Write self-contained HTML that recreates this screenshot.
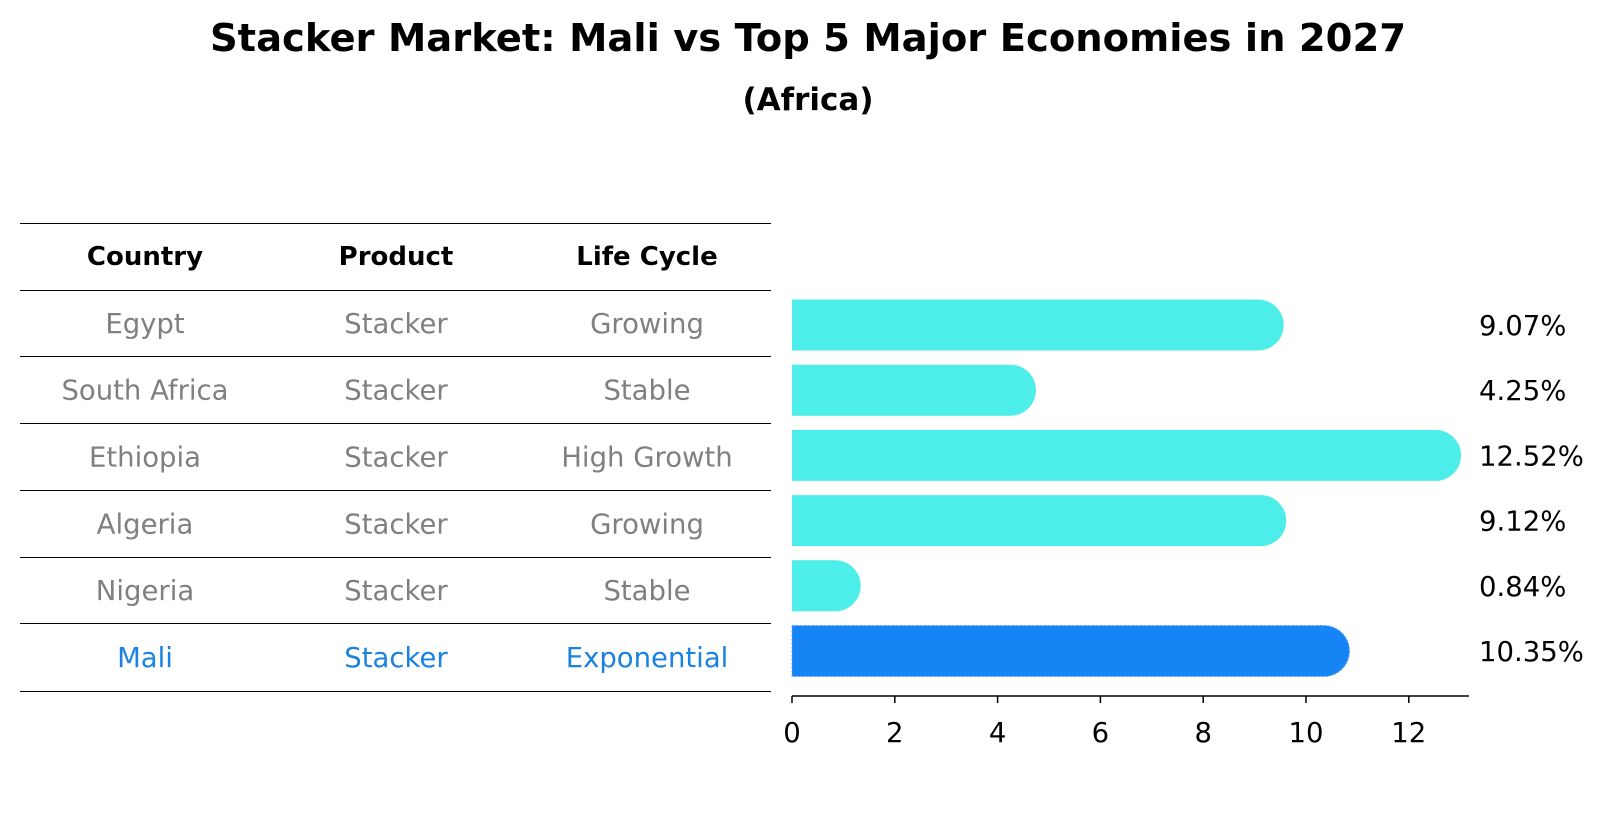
<!DOCTYPE html>
<html><head><meta charset="utf-8"><style>
body{margin:0;background:#fff;font-family:"Liberation Sans","DejaVu Sans",sans-serif}
svg text{font-family:"DejaVu Sans","Liberation Sans",sans-serif}
</style></head><body>
<svg id="chart" width="1604" height="823" xmlns="http://www.w3.org/2000/svg">
<text x="808" y="51" text-anchor="middle" font-size="38.5" font-weight="bold">Stacker Market: Mali vs Top 5 Major Economies in 2027</text>
<text x="808" y="110" text-anchor="middle" font-size="31" font-weight="bold">(Africa)</text>
<g id="table"></g>
<g id="bars"></g>
</svg>
<script>
const countries=["Egypt","South Africa","Ethiopia","Algeria","Nigeria","Mali"];
const products=["Stacker","Stacker","Stacker","Stacker","Stacker","Stacker"];
const lifecycles=["Growing","Stable","High Growth","Growing","Stable","Exponential"];
const values=[9.07,4.25,12.52,9.12,0.84,10.35];
const ticks=[0,2,4,6,8,10,12];
const NS="http://www.w3.org/2000/svg";
function mk(tag,attrs,parent,txt){const e=document.createElementNS(NS,tag);for(const k in attrs)e.setAttribute(k,attrs[k]);if(txt!==undefined)e.textContent=txt;parent.appendChild(e);return e;}
const tbl=document.getElementById('table');
const lineYs=[223,290,356,422.5,490,556.5,623,690.5];
lineYs.forEach((y,i)=>{const l=mk('line',{x1:20,x2:771,y1:Math.round(y)+0.5,y2:Math.round(y)+0.5,stroke:'#000','stroke-width':1},tbl);

});
const colX=[145,396,647];
["Country","Product","Life Cycle"].forEach((h,i)=>{const t=mk('text',{x:colX[i],y:265,'text-anchor':'middle','font-size':26,'font-weight':'bold'},tbl,h);

});
countries.forEach((c,i)=>{const y=(lineYs[i+1]+lineYs[i+2])/2+10;const col=c==="Mali"?"#1a82e0":"#808080";
[c,products[i],lifecycles[i]].forEach((v,j)=>{const t=mk('text',{x:colX[j],y:y,'text-anchor':'middle','font-size':27.5,fill:col},tbl,v);

});});
const g=document.getElementById('bars');
const x0=792,ppu=51.4;
const xs=v=>x0+v*ppu;
const yc=i=>325+i*65.2;
const bh=51;
values.forEach((v,i)=>{const mali=countries[i]==="Mali";const col=mali?"#1784f5":"#4deee9";
const p=mk('path',{d:`M${x0},${yc(i)-bh/2} H${xs(v)} A${bh/2},${bh/2} 0 0 1 ${xs(v)},${yc(i)+bh/2} H${x0} Z`,fill:col},g);
if(mali){p.setAttribute('stroke','#5aa8f8');p.setAttribute('stroke-dasharray','2,2');p.setAttribute('stroke-width','1');}


const t=mk('text',{x:1479,y:yc(i)+10,'font-size':27.5},g,v.toFixed(2)+'%');

});
const ax=mk('line',{x1:x0,x2:1469,y1:696,y2:696,stroke:'#000','stroke-width':1.5},g);


ticks.forEach(t=>{const l=mk('line',{x1:xs(t),x2:xs(t),y1:696,y2:703,stroke:'#000','stroke-width':1.5},g);


const tx=mk('text',{x:xs(t),y:742,'text-anchor':'middle','font-size':27.5},g,String(t));

});
</script>
</body></html>
